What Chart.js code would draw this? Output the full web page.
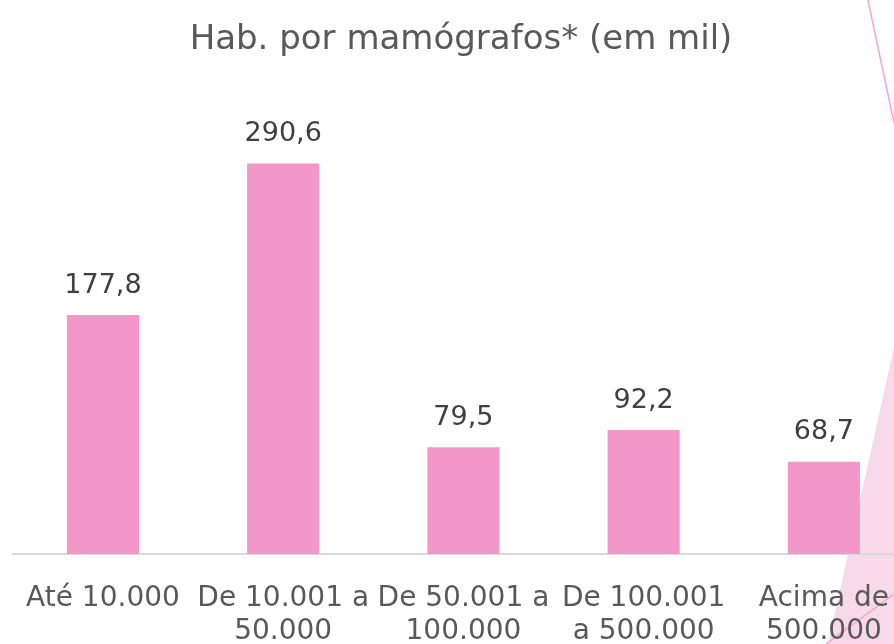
<!DOCTYPE html>
<html>
<head>
<meta charset="utf-8">
<script src="https://cdn.jsdelivr.net/npm/chart.js@4"></script>
<style>
  html,body{margin:0;padding:0;background:#fff;overflow:hidden;}
  #wrap{position:absolute;left:-3px;top:0;width:923px;height:644px;}
</style>
</head>
<body>
<div id="wrap"><canvas id="chart"></canvas></div>
<script>
const titleText = 'Hab. por mamógrafos* (em mil)';
const categories = [
  ['Até 10.000'],
  ['De 10.001 a', '50.000'],
  ['De 50.001 a', '100.000'],
  ['De 100.001', 'a 500.000'],
  ['Acima de', '500.000']
];
const values = [177.8, 290.6, 79.5, 92.2, 68.7];

const FONT = '"DejaVu Sans", sans-serif';
const SHIFT = 3; // wrapper is moved 3px left
const fmt = (v) => v.toFixed(1).replace('.', ',');

// slide decoration on the right edge
const decor = {
  id: 'decor',
  beforeDraw(chart){
    const c = chart.ctx;
    c.save();
    c.translate(SHIFT, 0);
    c.fillStyle = '#F8D9EA';
    c.beginPath();
    c.moveTo(894, 347); c.lineTo(828, 644); c.lineTo(920, 644); c.lineTo(920, 347);
    c.closePath(); c.fill();
    c.strokeStyle = '#F4A6CF'; c.lineWidth = 1.5;
    c.beginPath(); c.moveTo(868, 0); c.lineTo(894, 123); c.stroke();
    c.beginPath(); c.moveTo(826, 644); c.lineTo(894, 594); c.stroke();
    c.restore();
  }
};

const valueLabels = {
  id: 'valueLabels',
  afterDatasetsDraw(chart){
    const c = chart.ctx;
    const meta = chart.getDatasetMeta(0);
    c.save();
    c.font = '27px ' + FONT;
    c.fillStyle = '#404040';
    c.textAlign = 'center';
    c.textBaseline = 'bottom';
    meta.data.forEach((bar, i) => c.fillText(fmt(values[i]), bar.x, bar.y - 16));
    c.restore();
  }
};

new Chart(document.getElementById('chart'), {
  type: 'bar',
  data: {
    labels: categories,
    datasets: [{
      data: values,
      backgroundColor: '#F397C9',
      barPercentage: 0.8,
      categoryPercentage: 0.5
    }]
  },
  options: {
    responsive: true,
    maintainAspectRatio: false,
    animation: false,
    layout: {padding: {left: 11, right: 6, top: 0, bottom: -32}},
    plugins: {
      legend: {display: false},
      tooltip: {enabled: false},
      title: {
        display: true,
        text: titleText,
        color: '#595959',
        font: {family: FONT, size: 34, weight: 'normal', lineHeight: 1.2},
        padding: {top: 20, bottom: 23},
        align: 'center'
      }
    },
    scales: {
      y: {display: false, min: 0, max: 350},
      x: {
        grid: {display: false, drawTicks: false},
        border: {display: true, color: '#D9D9D9', width: 2},
        ticks: {
          color: '#595959',
          font: {family: FONT, size: 28, lineHeight: 1.18},
          padding: 28,
          autoSkip: false,
          maxRotation: 0
        }
      }
    }
  },
  plugins: [decor, valueLabels]
});
</script>
</body>
</html>
